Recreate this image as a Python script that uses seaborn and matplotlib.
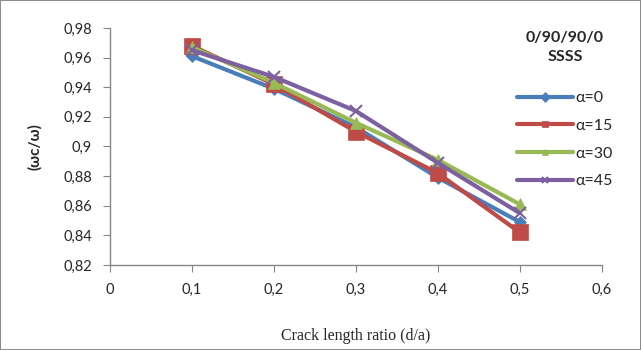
import matplotlib
matplotlib.use("Agg")
import matplotlib.pyplot as plt
import matplotlib.ticker as mticker
import seaborn as sns
import pandas as pd

# Data
ratio = [0.1, 0.2, 0.3, 0.4, 0.5]
alpha_0 = [0.961, 0.939, 0.913, 0.879, 0.849]
alpha_15 = [0.968, 0.942, 0.910, 0.882, 0.842]
alpha_30 = [0.967, 0.943, 0.916, 0.891, 0.861]
alpha_45 = [0.965, 0.947, 0.924, 0.889, 0.855]
labels = ["α=0", "α=15", "α=30", "α=45"]

series = [alpha_0, alpha_15, alpha_30, alpha_45]
rows = []
for lab, vals in zip(labels, series):
    for r, v in zip(ratio, vals):
        rows.append({"d/a": r, "val": v, "case": lab})
df = pd.DataFrame(rows)

sns.set_style("white")
plt.rcParams['font.family'] = ['Lato', 'DejaVu Sans']

colors = ["#4A7EBB", "#BE4B48", "#98B954", "#7D60A0"]
markers = ["D", "s", "^", "x"]
msizes = [6, 11, 8, 9]

fig = plt.figure(figsize=(6.41, 3.5), dpi=100, edgecolor="#8c8c8c", linewidth=1.2)
ax = fig.add_axes([0.1716, 0.243, 0.767, 0.677])

for lab, c, m, ms in zip(labels, colors, markers, msizes):
    sub = df[df["case"] == lab]
    sns.lineplot(data=sub, x="d/a", y="val", ax=ax, color=c, marker=m,
                 markersize=ms, linewidth=3, markeredgecolor=c,
                 markeredgewidth=1.5 if m == "x" else 0.5, label=lab)

ax.set_xlim(0, 0.6)
ax.set_ylim(0.82, 0.98)
ax.set_xticks([0, 0.1, 0.2, 0.3, 0.4, 0.5, 0.6])
ax.set_yticks([0.82, 0.84, 0.86, 0.88, 0.9, 0.92, 0.94, 0.96, 0.98])

def comma(v, pos):
    s = ("%.2f" % v).rstrip("0").rstrip(".")
    return s.replace(".", ",")

ax.xaxis.set_major_formatter(mticker.FuncFormatter(comma))
ax.yaxis.set_major_formatter(mticker.FuncFormatter(comma))

for s in ["top", "right"]:
    ax.spines[s].set_visible(False)
for s in ["left", "bottom"]:
    ax.spines[s].set_color("#868686")
    ax.spines[s].set_linewidth(1)
ax.tick_params(axis="both", which="major", length=5, color="#868686",
               direction="out", labelsize=10.5, bottom=True, left=True)
ax.tick_params(axis="x", pad=8)
ax.tick_params(axis="y", pad=8)

ax.set_xlabel("Crack length ratio (d/a)", family="Liberation Serif",
              fontsize=11.5, labelpad=22)
ax.set_ylabel("(ωc/ω)", fontweight="bold", fontsize=11)
ax.yaxis.set_label_coords(-0.138, 0.5)

# legend title drawn as text, centred above the entries
fig.text(565 / 641, 1 - 38 / 350, "0/90/90/0", ha="center", va="center",
         fontweight="bold", fontsize=11.5)
fig.text(565 / 641, 1 - 57 / 350, "SSSS", ha="center", va="center",
         fontweight="bold", fontsize=11.5)

leg = ax.legend(loc="upper left", bbox_to_anchor=(517 / 641, 1 - 91 / 350),
                bbox_transform=fig.transFigure, borderaxespad=0, borderpad=0,
                frameon=False, fontsize=11.5, handlelength=3.5,
                handletextpad=0.15, labelspacing=0.85)
for h in leg.legend_handles:
    h.set_markersize(5)

fig.savefig("out.png", dpi=100, edgecolor=fig.get_edgecolor())
